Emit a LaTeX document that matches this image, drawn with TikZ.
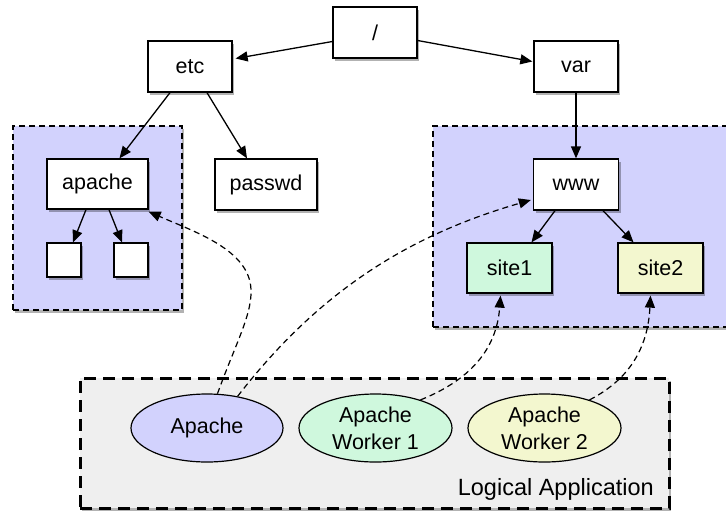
\documentclass[tikz,border=0pt]{standalone}
\usepackage{fontspec}
\setmainfont{Liberation Sans}
\usetikzlibrary{arrows.meta,shadows,calc,shapes.geometric}
\definecolor{lav}{HTML}{D2D2FD}
\definecolor{mint}{HTML}{CFF8DD}
\definecolor{lemon}{HTML}{F3F7CF}
\definecolor{lgray}{HTML}{EFEFEF}
\newcommand\lblfont{\fontsize{21.5}{27}\selectfont}
\newcommand\bigfont{\fontsize{23.5}{28}\selectfont}
\tikzset{
  x=1pt, y=-1pt,
  shad/.style={drop shadow={shadow xshift=2pt,shadow yshift=-3pt,opacity=0.3,fill=black}},
  dirbox/.style={draw,line width=1.3pt,fill=white,minimum width=84pt,minimum height=51pt,inner sep=0pt,shad,font=\lblfont},
  leafbox/.style={draw,line width=1.3pt,fill=white,minimum width=34pt,minimum height=34pt,inner sep=0pt,shad},
  grp/.style={draw,line width=1.3pt,fill=lav,dash pattern=on 6pt off 4pt,inner sep=0pt,shad},
  appgrp/.style={draw,line width=3pt,fill=lgray,dash pattern=on 12pt off 7pt,inner sep=0pt,shad},
  proc/.style={ellipse,draw,line width=1.2pt,minimum width=152pt,minimum height=68pt,inner sep=0pt,align=center,font=\lblfont},
  arr/.style={line width=1.3pt,-{Triangle[length=12pt,width=10pt]}},
  darr/.style={line width=1.2pt,dash pattern=on 6pt off 4pt,-{Triangle[length=12pt,width=10pt]}}
}
\begin{document}
\begin{tikzpicture}
\useasboundingbox (0,0) rectangle (726,512);
% groups
\node[grp,minimum width=169pt,minimum height=184pt] (leftgrp) at (97.5,218) {};
\node[grp,minimum width=327pt,minimum height=201pt] (rightgrp) at (596.5,226.5) {};
\node[appgrp,minimum width=589pt,minimum height=130pt] (appgrp) at (374.5,443) {};
% directory boxes
\node[dirbox] (root) at (375,32.5) {/};
\node[dirbox] (etc) at (190,66.5) {etc};
\node[dirbox] (var) at (576,66.5) {var};
\node[dirbox,minimum width=101pt,minimum height=50pt] (apache) at (97.5,184) {apache};
\node[dirbox,minimum width=102pt] (passwd) at (266,184.5) {passwd};
\node[leafbox] (leafa) at (64,260) {};
\node[leafbox] (leafb) at (131,260) {};
\node[dirbox,minimum width=85pt] (www) at (576,184.5) {www};
\node[dirbox,minimum width=85pt,minimum height=50pt,fill=mint] (site1) at (509.5,268) {site1};
\node[dirbox,minimum width=85pt,minimum height=50pt,fill=lemon] (site2) at (660.5,268) {site2};
% processes
\node[proc,fill=lav] (apacheE) at (207,428) {Apache};
\node[proc,fill=mint,minimum width=153pt] (worker1) at (375.5,428) {Apache\\Worker 1};
\node[proc,fill=lemon,minimum width=153pt] (worker2) at (544.5,428) {Apache\\Worker 2};
\node[anchor=base east,font=\bigfont,inner sep=0pt] (logical) at (654,495) {Logical Application};
% solid arrows
\draw[arr] ($(root.west)+(0,9)$) -- ($(etc.east)+(3,-8)$);
\draw[arr] ($(root.east)+(0,8)$) -- ($(var.west)+(-1,-5)$);
\draw[arr] ($(etc.south)+(-20,0)$) -- ($(apache.north)+(22,0)$);
\draw[arr] ($(etc.south)+(17,0)$) -- ($(passwd.north)+(-19,0)$);
\draw[arr] (var.south) -- (www.north);
\draw[arr] ($(apache.south)+(-11.5,0)$) -- ($(leafa.north)+(9,0)$);
\draw[arr] ($(apache.south)+(11.5,0)$) -- ($(leafb.north)+(-9,0)$);
\draw[arr] ($(www.south)+(-21,0)$) -- ($(site1.north)+(22,0)$);
\draw[arr] ($(www.south)+(27,0)$) -- ($(site2.north)+(-27,0)$);
% dashed mapping arrows
\draw[darr] (apacheE.73) .. controls (235,345) and (252,315) .. (251,290)
  .. controls (250,250) and (195,232) .. ($(apache.south east)+(0,2)$);
\draw[darr] (apacheE.46) .. controls (320,290) and (410,235) .. ($(www.west)+(-2,15.5)$);
\draw[darr] (worker1.32) .. controls (475,378) and (497,345) .. ($(site1.south)+(-9,2)$);
\draw[darr] (worker2.32) .. controls (632,378) and (648,345) .. ($(site2.south)+(-10,2)$);
\end{tikzpicture}
\end{document}
